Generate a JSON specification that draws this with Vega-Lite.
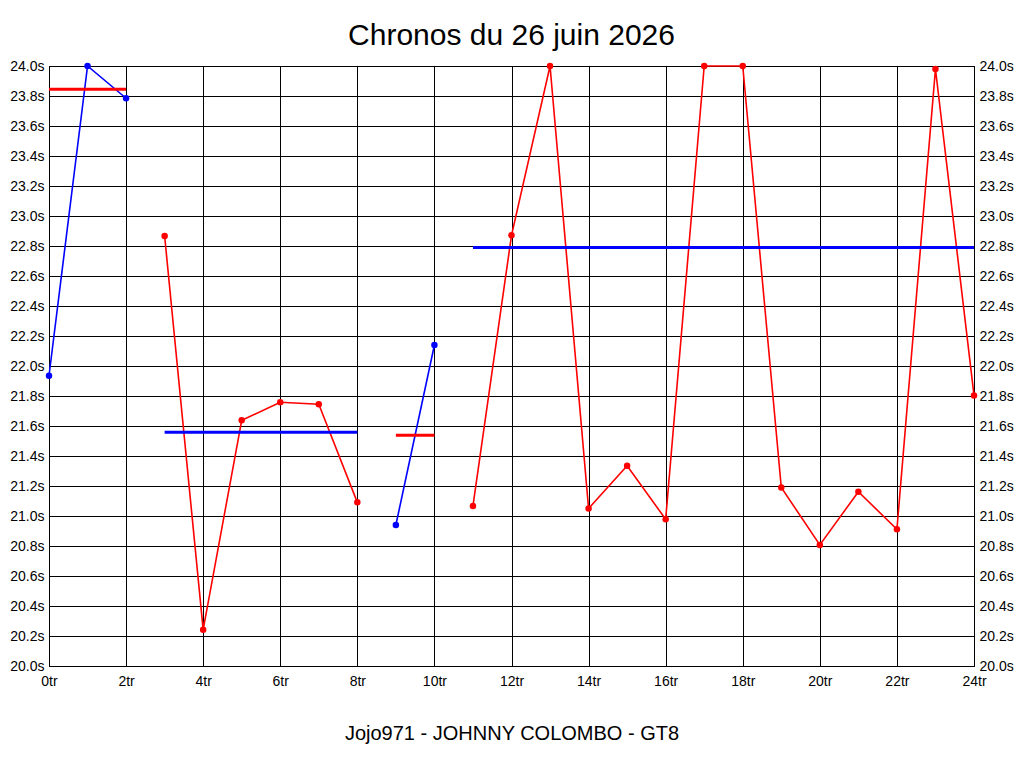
{
  "$schema": "https://vega.github.io/schema/vega-lite/v6.json",
  "width": 925,
  "height": 600,
  "autosize": {"type": "none"},
  "padding": {"left": 49, "top": 66, "right": 50, "bottom": 102},
  "background": "white",
  "title": {
    "text": "Chronos du 26 juin 2026",
    "font": "Liberation Sans",
    "fontSize": 30,
    "fontWeight": "normal",
    "color": "black",
    "anchor": "middle",
    "offset": 8
  },
  "config": {
    "view": {"stroke": "black", "strokeWidth": 1},
    "axis": {
      "labelFont": "Liberation Sans",
      "labelFontSize": 14,
      "labelColor": "black",
      "labelFlush": false,
      "labelOverlap": false,
      "domainColor": "black",
      "gridColor": "black",
      "gridOpacity": 1,
      "gridWidth": 1,
      "ticks": false
    }
  },
  "datasets": {
    "tours": [
      {"tour": 0, "temps": 21.935, "serie": "A", "couleur": "bleu"},
      {"tour": 1, "temps": 24.0, "serie": "A", "couleur": "bleu"},
      {"tour": 2, "temps": 23.785, "serie": "A", "couleur": "bleu"},
      {"tour": 3, "temps": 22.867, "serie": "B", "couleur": "rouge"},
      {"tour": 4, "temps": 20.242, "serie": "B", "couleur": "rouge"},
      {"tour": 5, "temps": 21.638, "serie": "B", "couleur": "rouge"},
      {"tour": 6, "temps": 21.758, "serie": "B", "couleur": "rouge"},
      {"tour": 7, "temps": 21.745, "serie": "B", "couleur": "rouge"},
      {"tour": 8, "temps": 21.091, "serie": "B", "couleur": "rouge"},
      {"tour": 9, "temps": 20.94, "serie": "C", "couleur": "bleu"},
      {"tour": 10, "temps": 22.14, "serie": "C", "couleur": "bleu"},
      {"tour": 11, "temps": 21.067, "serie": "D", "couleur": "rouge"},
      {"tour": 12, "temps": 22.871, "serie": "D", "couleur": "rouge"},
      {"tour": 13, "temps": 24.0, "serie": "D", "couleur": "rouge"},
      {"tour": 14, "temps": 21.05, "serie": "D", "couleur": "rouge"},
      {"tour": 15, "temps": 21.335, "serie": "D", "couleur": "rouge"},
      {"tour": 16, "temps": 20.978, "serie": "D", "couleur": "rouge"},
      {"tour": 17, "temps": 24.0, "serie": "D", "couleur": "rouge"},
      {"tour": 18, "temps": 24.0, "serie": "D", "couleur": "rouge"},
      {"tour": 19, "temps": 21.19, "serie": "D", "couleur": "rouge"},
      {"tour": 20, "temps": 20.807, "serie": "D", "couleur": "rouge"},
      {"tour": 21, "temps": 21.162, "serie": "D", "couleur": "rouge"},
      {"tour": 22, "temps": 20.911, "serie": "D", "couleur": "rouge"},
      {"tour": 23, "temps": 23.98, "serie": "D", "couleur": "rouge"},
      {"tour": 24, "temps": 21.804, "serie": "D", "couleur": "rouge"}
    ],
    "moyennes": [
      {"debut": 0, "fin": 2, "moyenne": 23.845, "couleur": "rouge"},
      {"debut": 3, "fin": 8, "moyenne": 21.558, "couleur": "bleu"},
      {"debut": 9, "fin": 10, "moyenne": 21.538, "couleur": "rouge"},
      {"debut": 11, "fin": 24, "moyenne": 22.79, "couleur": "bleu"}
    ]
  },
  "layer": [
    {
      "data": {"name": "tours"},
      "mark": {"type": "point", "opacity": 0},
      "encoding": {
        "x": {
          "field": "tour", "type": "quantitative",
          "scale": {"domain": [0, 24], "nice": false},
          "axis": {
            "values": [0, 2, 4, 6, 8, 10, 12, 14, 16, 18, 20, 22, 24],
            "labelExpr": "datum.value + 'tr'",
            "labelPadding": 8,
            "title": "Jojo971 - JOHNNY COLOMBO - GT8",
            "titleFont": "Liberation Sans",
            "titleFontSize": 20,
            "titleFontWeight": "normal",
            "titleColor": "black",
            "titlePadding": 35
          }
        },
        "y": {
          "field": "temps", "type": "quantitative",
          "scale": {"domain": [20, 24], "nice": false, "zero": false},
          "axis": {
            "orient": "left",
            "values": [20.0, 20.2, 20.4, 20.6, 20.8, 21.0, 21.2, 21.4, 21.6, 21.8, 22.0, 22.2, 22.4, 22.6, 22.8, 23.0, 23.2, 23.4, 23.6, 23.8, 24.0],
            "labelExpr": "format(datum.value, '.1f') + 's'",
            "labelPadding": 5,
            "labelOverlap": false,
            "title": null
          }
        }
      }
    },
    {
      "data": {"name": "tours"},
      "mark": {"type": "point", "opacity": 0},
      "encoding": {
        "x": {"field": "tour", "type": "quantitative", "axis": null},
        "y": {
          "field": "temps", "type": "quantitative",
          "axis": {
            "orient": "right",
            "values": [20.0, 20.2, 20.4, 20.6, 20.8, 21.0, 21.2, 21.4, 21.6, 21.8, 22.0, 22.2, 22.4, 22.6, 22.8, 23.0, 23.2, 23.4, 23.6, 23.8, 24.0],
            "labelExpr": "format(datum.value, '.1f') + 's'",
            "labelPadding": 5,
            "labelOverlap": false,
            "grid": false,
            "title": null
          }
        }
      }
    },
    {
      "data": {"name": "tours"},
      "mark": {"type": "line", "strokeWidth": 1.6},
      "encoding": {
        "x": {"field": "tour", "type": "quantitative", "axis": null},
        "y": {"field": "temps", "type": "quantitative", "axis": null},
        "color": {
          "field": "couleur", "type": "nominal",
          "scale": {"domain": ["bleu", "rouge"], "range": ["#0000ff", "#ff0000"]},
          "legend": null
        },
        "detail": {"field": "serie", "type": "nominal"}
      }
    },
    {
      "data": {"name": "tours"},
      "mark": {"type": "point", "filled": true, "shape": "circle", "size": 42, "opacity": 1},
      "encoding": {
        "x": {"field": "tour", "type": "quantitative", "axis": null},
        "y": {"field": "temps", "type": "quantitative", "axis": null},
        "color": {"field": "couleur", "type": "nominal", "legend": null}
      }
    },
    {
      "data": {"name": "moyennes"},
      "mark": {"type": "rule", "strokeWidth": 3},
      "encoding": {
        "x": {"field": "debut", "type": "quantitative", "axis": null},
        "x2": {"field": "fin"},
        "y": {"field": "moyenne", "type": "quantitative", "axis": null},
        "color": {"field": "couleur", "type": "nominal", "legend": null}
      }
    }
  ],
  "resolve": {"axis": {"y": "independent", "x": "independent"}}
}
